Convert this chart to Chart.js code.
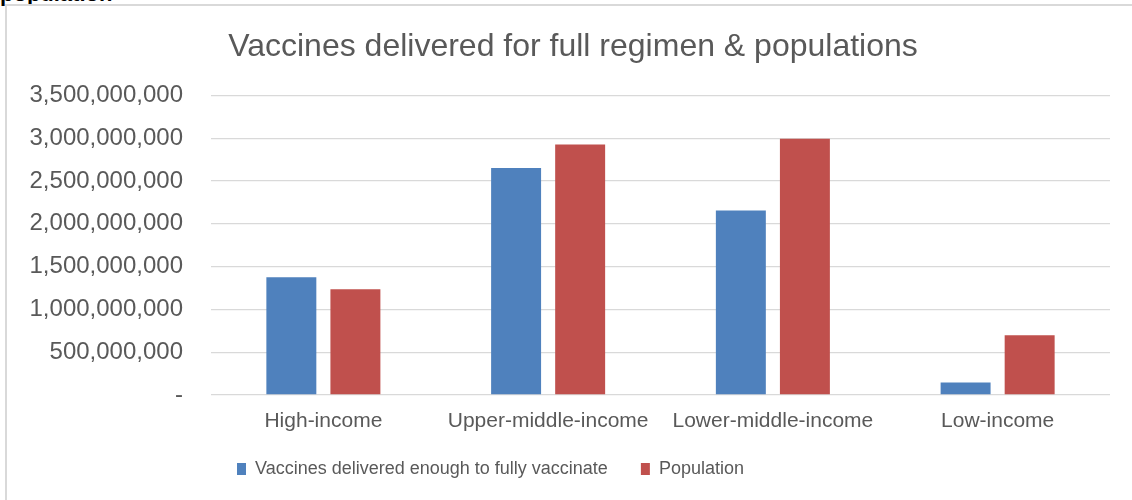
<!DOCTYPE html>
<html>
<head>
<meta charset="utf-8">
<script src="https://cdn.jsdelivr.net/npm/chart.js@4"></script>
<style>
  html, body { margin: 0; padding: 0; background: #fff; }
  #wrap { position: relative; width: 1132px; height: 500px; overflow: hidden; }
  #frame { position: absolute; left: 5px; top: 4px; width: 1200px; height: 600px; border-left: 2px solid #d9d9d9; border-top: 2px solid #d9d9d9; }
  #cut { position: absolute; left: 0px; top: -19px; font: bold 22px "Liberation Sans", Arial, sans-serif; color: #000; }
  canvas { position: absolute; left: 0; top: 0; }
</style>
</head>
<body>
<div id="wrap">
  <div id="cut">population</div>
  <div id="frame"></div>
  <canvas id="c" width="1132" height="500"></canvas>
</div>
<script>
const categories = ["High-income", "Upper-middle-income", "Lower-middle-income", "Low-income"];
const vaccinesDelivered = [1375000000, 2652000000, 2154000000, 145000000];
const population = [1235000000, 2925000000, 2995000000, 697000000];
const seriesNames = ["Vaccines delivered enough to fully vaccinate", "Population"];
const titleText = "Vaccines delivered for full regimen & populations";
const yMax = 3500000000;
const yStep = 500000000;

const boxPlace = {
  id: 'boxPlace',
  afterLayout(chart) {
    const lg = chart.legend;
    if (lg) {
      const w = lg.width, h = lg.height;
      lg.left = 204; lg.right = 204 + w;
      lg.top = 427; lg.bottom = 427 + h;
    }
    const t = chart.titleBlock;
    if (t) { t.left += 18; t.right += 18; }
  }
};

new Chart(document.getElementById('c'), {
  type: 'bar',
  data: {
    labels: categories,
    datasets: [
      { label: seriesNames[0], data: vaccinesDelivered, backgroundColor: '#4F81BD', borderWidth: 0,
        categoryPercentage: 0.57, barPercentage: 0.78 },
      { label: seriesNames[1], data: population, backgroundColor: '#C0504D', borderWidth: 0,
        categoryPercentage: 0.57, barPercentage: 0.78 }
    ]
  },
  options: {
    responsive: false,
    animation: false,
    devicePixelRatio: 1,
    layout: { padding: { top: 11, right: 22, left: 0, bottom: 0 } },
    plugins: {
      title: {
        display: true,
        text: titleText,
        color: '#595959',
        font: { family: '"Liberation Sans", Arial, sans-serif', size: 32, weight: 'normal' },
        padding: { top: 17, bottom: 29 }
      },
      legend: {
        position: 'bottom',
        align: 'start',
        maxHeight: 60,
        labels: {
          color: '#595959',
          font: { family: '"Liberation Sans", Arial, sans-serif', size: 18 },
          boxWidth: 9,
          boxHeight: 12,
          padding: 33
        }
      },
      tooltip: { enabled: false }
    },
    scales: {
      x: {
        afterFit(s) { s.height = 45; },
        grid: { display: false, drawTicks: false },
        border: { display: false },
        ticks: {
          color: '#595959',
          padding: 14,
          font: { family: '"Liberation Sans", Arial, sans-serif', size: 21 }
        }
      },
      y: {
        min: 0,
        max: yMax,
        afterFit(s) { s.width = 211; },
        grid: { color: '#d9d9d9', lineWidth: 1.3, drawTicks: false },
        border: { display: false },
        ticks: {
          stepSize: yStep,
          color: '#595959',
          padding: 28,
          font: { family: '"Liberation Sans", Arial, sans-serif', size: 24 },
          callback: (v) => v === 0 ? '-' : v.toLocaleString('en-US')
        }
      }
    }
  },
  plugins: [boxPlace]
});
</script>
</body>
</html>
